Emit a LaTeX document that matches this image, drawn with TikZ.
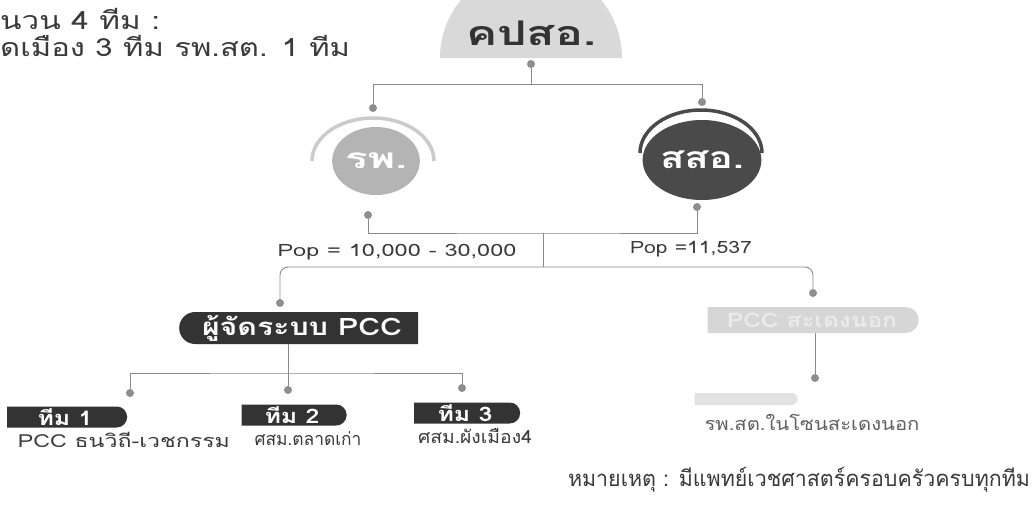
\documentclass[tikz,border=0pt]{standalone}
\usepackage{fontspec}
\usepackage{graphicx}
\setmainfont[Script=Thai]{Loma}
\usetikzlibrary{shapes.misc,shapes.geometric}
\definecolor{boxdark}{HTML}{333333}
\definecolor{topgray}{HTML}{D9D9D9}
\definecolor{lightdisk}{HTML}{B4B4B4}
\definecolor{darkdisk}{HTML}{4A4A4A}
\definecolor{linegray}{HTML}{8A8A8A}
\definecolor{dotgray}{HTML}{8E8E8E}
\definecolor{textgray}{HTML}{3A3A3A}
\definecolor{paleboxfill}{HTML}{D6D6D6}
\definecolor{palebar}{HTML}{E2E2E2}
\newsavebox\fitbox
\newcommand\fitw[2]{\sbox\fitbox{#2}\pgfmathsetmacro\fitr{#1/\wd\fitbox}\scalebox{\fitr}[1]{\usebox\fitbox}}
\begin{document}
\begin{tikzpicture}[x=1pt,y=1pt,
  dotn/.style={circle,fill=dotgray,minimum size=8pt,inner sep=0pt},
  conn/.style={draw=linegray,line width=0.9pt},
  txt/.style={inner sep=0pt,text=textgray},
  arcline/.style={line width=3.5pt},
  darkleft/.style={rounded rectangle,rounded rectangle right arc=none,fill=boxdark,text=white,inner sep=0pt,font=\bfseries\fontsize{24}{26}\selectfont},
  teambox/.style={rounded rectangle,rounded rectangle left arc=none,fill=boxdark,text=white,inner sep=0pt,minimum height=21pt,font=\bfseries\fontsize{20}{22}\selectfont},
  desc/.style={txt,font=\fontsize{18}{20}\selectfont}
]
\useasboundingbox (0,0) rectangle (1034,-509);
\fill[white] (0,0) rectangle (1034,-509);

% top-left text
\node[txt,anchor=west,font=\fontsize{25}{28}\selectfont] (tl1) at (0,-19) {\fitw{160}{นวน 4 ทีม :}};
\node[txt,anchor=west,font=\fontsize{25}{28}\selectfont] (tl2) at (0,-46) {\fitw{350}{ดเมือง 3 ทีม รพ.สต. 1 ทีม}};

% top half disk
\begin{scope}
\clip (0,0) rectangle (1034,-509);
\fill[topgray] (440,-58) arc[start angle=180,end angle=0,radius=91] -- cycle;
\end{scope}
\node[txt,font=\bfseries\fontsize{34}{36}\selectfont,text=boxdark] (kpso) at (531,-33) {\fitw{130}{คปสอ.}};

% level 1 connectors
\node[dotn] (d0) at (531,-64) {};
\coordinate (j0) at (531,-84);
\node[dotn] (dA) at (373,-108) {};
\node[dotn] (dB) at (702,-102) {};
\draw[conn] (d0) -- (j0);
\draw[conn] (j0) -| (dA);
\draw[conn] (j0) -| (dB);

% circles
\draw[arcline,draw=lightdisk!70] (312,-161) arc[start angle=180,end angle=0,x radius=61,y radius=43];
\node[ellipse,fill=lightdisk,minimum width=74pt,minimum height=68pt,inner sep=0pt,text=white,font=\bfseries\fontsize{28}{30}\selectfont] (rp) at (376,-161) {\fitw{62}{รพ.}};
\draw[arcline,draw=darkdisk] (640,-153) arc[start angle=180,end angle=0,x radius=61,y radius=43];
\node[ellipse,fill=darkdisk,minimum width=92pt,minimum height=80pt,inner sep=0pt,text=white,font=\bfseries\fontsize{30}{32}\selectfont] (sso) at (702,-160) {\fitw{84}{สสอ.}};

% level 2 connectors
\node[dotn] (dC) at (368,-215) {};
\node[dotn] (dD) at (697,-207) {};
\coordinate (j1) at (543,-233);
\coordinate (j2) at (543,-267);
\draw[conn] (dC) |- (j1) -| (dD);
\draw[conn] (j1) -- (j2);
\node[dotn] (dE) at (280,-303) {};
\node[dotn] (dF) at (813,-293) {};
\draw[conn,rounded corners=8pt] (j2) -| (dE);
\draw[conn,rounded corners=8pt] (j2) -| (dF);

\node[txt,font=\fontsize{17}{19}\selectfont] (popL) at (397,-252) {\fitw{239}{Pop = 10,000 - 30,000}};
\node[txt,font=\fontsize{17}{19}\selectfont] (popR) at (691,-249) {\fitw{122}{Pop =11,537}};

% PCC manager
\node[darkleft,minimum width=239pt,minimum height=32pt] (pcc) at (302,-328) {\fitw{200}{ผู้จัดระบบ PCC}};
\coordinate (j3) at (288,-373);
\draw[conn] (pcc.south -| j3) -- (j3);
\node[dotn] (d1) at (130,-393) {};
\node[dotn] (d2) at (288,-390) {};
\node[dotn] (d3) at (462,-388) {};
\draw[conn] (d1) |- (j3) -| (d3);
\draw[conn] (j3) -- (d2);

% teams
\node[teambox,minimum width=120pt] (t1) at (65,-417) {\fitw{55}{ทีม 1}};
\node[teambox,minimum width=105pt] (t2) at (292,-415) {\fitw{55}{ทีม 2}};
\node[teambox,minimum width=106pt] (t3) at (465,-413) {\fitw{55}{ทีม 3}};
\node[desc] (x1) at (124,-440) {\fitw{212}{PCC ธนวิถี-เวชกรรม}};
\node[desc] (x2) at (308,-439) {\fitw{107}{ศสม.ตลาดเก่า}};
\node[desc] (x3) at (475,-436) {\fitw{114}{ศสม.ผังเมือง4}};

% PCC outer
\node[rounded rectangle,rounded rectangle left arc=none,fill=paleboxfill,text=white!92!black,inner sep=0pt,minimum width=211pt,minimum height=26pt,font=\bfseries\fontsize{20}{22}\selectfont] (pccr) at (812,-320) {\fitw{170}{PCC สะเดงนอก}};
\node[dotn] (d4) at (815,-378) {};
\draw[conn] (pccr.south -| d4) -- (d4);
\node[rounded rectangle,rounded rectangle left arc=none,fill=palebar,inner sep=0pt,minimum width=103pt,minimum height=12pt] (lb) at (746,-399) {};
\node[desc,text=textgray!80] (x4) at (812,-422) {\fitw{215}{รพ.สต.ในโซนสะเดงนอก}};

% note
\node[txt,font=\fontsize{22}{24}\selectfont] (note) at (799,-480) {\fitw{462}{หมายเหตุ : มีแพทย์เวชศาสตร์ครอบครัวครบทุกทีม}};
\end{tikzpicture}
\end{document}
